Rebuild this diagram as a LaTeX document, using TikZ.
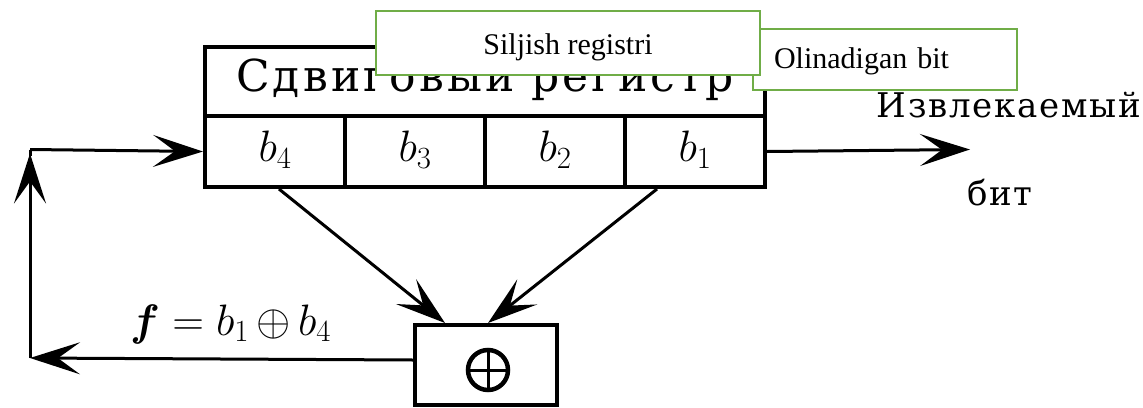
\RequirePackage{fix-cm}
\documentclass[tikz,border=0pt]{standalone}
\usepackage{amsmath}
\usepackage{fontspec}
\setmainfont{Liberation Serif}
\newfontfamily\regfont[LetterSpace=7]{DejaVu Serif}
\newfontfamily\outfont[LetterSpace=5]{DejaVu Serif}
\usetikzlibrary{arrows.meta,calc}
\definecolor{notegreen}{RGB}{112,173,71}
\begin{document}
\begin{tikzpicture}[x=1pt,y=-1pt,
  regbox/.style={draw, line width=4pt, inner sep=0pt, anchor=north west},
  titlebox/.style={regbox, minimum width=560pt, minimum height=69pt,
    font=\regfont\fontsize{44}{52}\selectfont, text height=30pt, text depth=10pt},
  cellbox/.style={regbox, minimum width=140pt, minimum height=71pt,
    font=\fontsize{44}{52}\selectfont, text height=30pt, text depth=10pt},
  arr/.style={line width=3pt, -{Stealth[length=50pt,width=32pt,inset=22pt]}},
  note/.style={draw=notegreen, fill=white, line width=2pt, inner sep=0pt,
    font=\fontsize{30}{35}\selectfont, anchor=north west},
  cyrlabel/.style={font=\outfont\fontsize{34}{40}\selectfont, inner sep=0pt}
]
\clip (0,0) rectangle (1143,407);
\fill[white] (0,0) rectangle (1143,407);

% shift register
\node[titlebox] (reg) at (203,45) {Сдвиговый регистр};
\node[cellbox] (c4) at (203,114) {$b_4$};
\node[cellbox] (c3) at (343,114) {$b_3$};
\node[cellbox] (c2) at (483,114) {$b_2$};
\node[cellbox] (c1) at (623,114) {$b_1$};

% XOR box
\node[regbox, minimum width=142pt, minimum height=80pt] (xor) at (413,323) {};
\node[circle, draw, line width=4.5pt, minimum size=40pt, inner sep=0pt] (xs) at ($(xor.center)+(2,5)$) {};
\draw[line width=3pt] (xs.north) -- (xs.south) (xs.west) -- (xs.east);

% connectors
\coordinate (outend) at (970,149.5);
\coordinate (cBL) at (30,358);
\coordinate (cTL) at (30,149.5);
\draw[arr] ($(c4.south)+(4,0)$) -- ($(xor.north west)+(32,0)$);
\draw[arr] ($(c1.south)+(-38,0)$) -- ($(xor.north)+(2,0)$);
\draw[arr] (c1.east) -- (outend);
\draw[arr] ($(xor.west)+(0,-5)$) -- (cBL);
\draw[arr] (cBL) -- ($(cTL)+(0,4)$);
\draw[line width=3pt] ($(cTL)+(0,6)$) -- (cTL);
\draw[arr] (cTL) -- (c4.west);

% labels
\node[cyrlabel, anchor=base east] (izv) at (1141,117) {Извлекаемый};
\node[cyrlabel, anchor=base] (bit) at (1000,205) {бит};
\node[inner sep=0pt, anchor=base west, font=\fontsize{44}{52}\selectfont] (flab) at (130,335)
  {$\boldsymbol{f}=b_1{\,\oplus\,}b_4$};

% green notes
\node[note, minimum width=264pt, minimum height=61pt, text width=222pt, inner xsep=21pt,
  align=left, text height=23pt, text depth=6pt] (n2) at (752,28) {Olinadigan bit};
\node[note, minimum width=384pt, minimum height=64pt, text height=26pt, text depth=4pt] (n1) at (375,10) {Siljish registri};
\end{tikzpicture}
\end{document}
